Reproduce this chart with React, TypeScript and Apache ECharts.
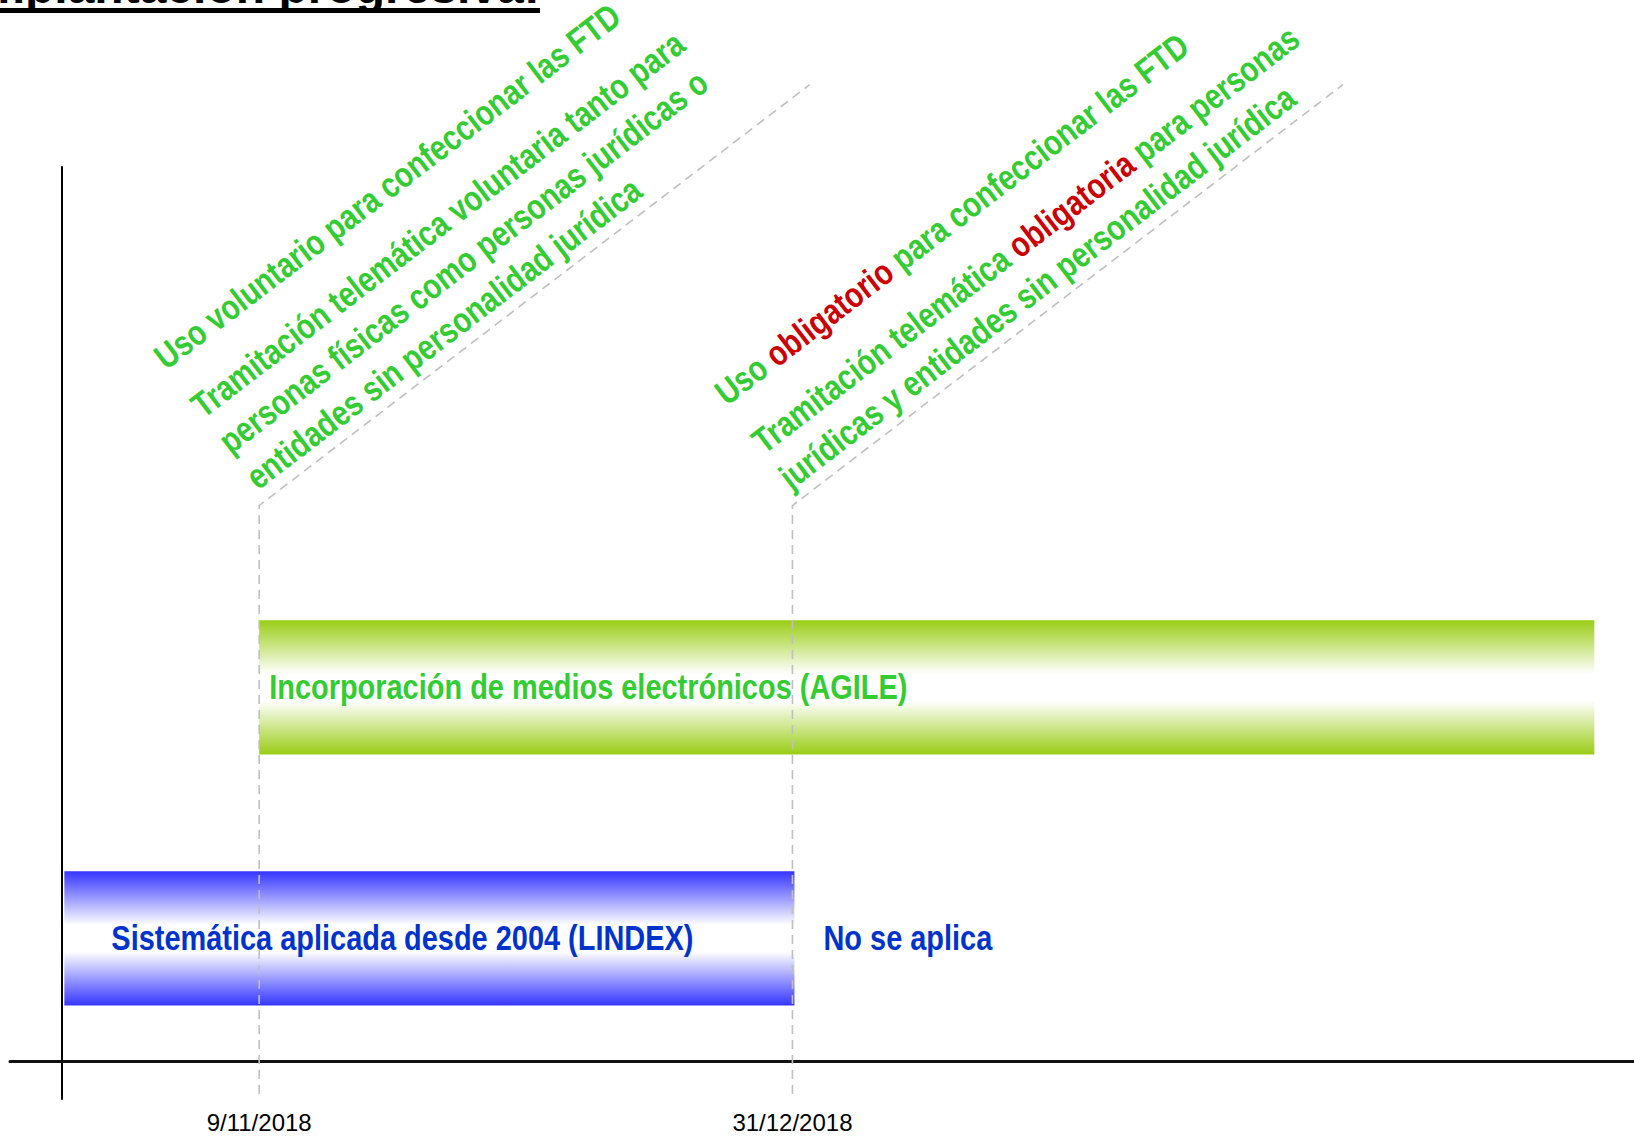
import React, { useEffect, useRef } from 'react';
import * as echarts from 'echarts';

// ---------- data ----------
const TITLE = 'Implantación progresiva:';
const LANES = ['LINDEX', 'AGILE'];
const SEGMENT_LANE = [0, 0, 1];
const SEGMENT_START = ['2018-10-21', '2018-12-31', '2018-11-09'];
const SEGMENT_END = ['2018-12-31', '2019-03-19', '2019-03-19'];
const SEGMENT_LABEL = [
  'Sistemática aplicada desde 2004 (LINDEX)',
  'No se aplica',
  'Incorporación de medios electrónicos (AGILE)',
];
const SEGMENT_FILLED = [true, false, true];
const SEGMENT_THEME = ['blue', 'blue', 'green'];
const MILESTONE_DATES = ['2018-11-09', '2018-12-31'];
const MILESTONE_NOTES = [
  [
    ['Uso voluntario para confeccionar las FTD'],
    [
      'Tramitación telemática voluntaria tanto para',
      'personas físicas como personas jurídicas o',
      'entidades sin personalidad jurídica',
    ],
  ],
  [
    ['Uso *obligatorio* para confeccionar las FTD'],
    [
      'Tramitación telemática *obligatoria* para personas',
      'jurídicas y entidades sin personalidad jurídica',
    ],
  ],
];
const TICK_DATES = ['2018-11-09', '2018-12-31'];
const AXIS_START = '2018-10-15T16:50';
const AXIS_END = '2019-03-23T01:30';

// ---------- layout / style ----------
const FONT = '"Liberation Sans", Arial, sans-serif';
const GREEN_TEXT = '#33CC33';
const RED_TEXT = '#CC0000';
const BLUE_TEXT = '#0033CC';
const THEMES: Record<string, { bar: string; text: string }> = {
  blue: { bar: '#3535FF', text: BLUE_TEXT },
  green: { bar: '#9ACD15', text: GREEN_TEXT },
};
const LABEL_INSET = [47, 31, 10];
const LABEL_SIZE = 35.3;
const NARROW = 0.82;
const BAR_HEIGHT = 0.535;
const GUIDE_FROM = -0.62;
const GUIDE_TO = 1.725;
const NOTE_ANGLE = 37.4;
const DIAG_LEN = 693;
const NOTE_SIZE = 35.5;
const NOTE_INSET = 8;
const NOTE_BOTTOM = -12;
const LINE_GAP = 45;
const PARA_GAP = 61;

const ts = (s: string) => {
  const [d, t = '00:00'] = s.split('T');
  const [y, m, dd] = d.split('-').map(Number);
  const [hh, mi] = t.split(':').map(Number);
  return new Date(y, m - 1, dd, hh, mi).getTime();
};

const fmtDate = (v: number) => {
  const d = new Date(v);
  return `${d.getDate()}/${d.getMonth() + 1}/${d.getFullYear()}`;
};

const toRich = (line: string) => line.replace(/\*(.+?)\*/g, '{r|$1}');

export default function App() {
  const ref = useRef<HTMLDivElement>(null);

  useEffect(() => {
    if (!ref.current) return;
    const chart = echarts.init(ref.current, undefined, { renderer: 'svg' });

    const segData = SEGMENT_START.map((s, i) => [ts(s), ts(SEGMENT_END[i]), SEGMENT_LANE[i]]);
    const msData = MILESTONE_DATES.map((d) => [ts(d), GUIDE_TO]);

    const option: any = {
      animation: false,
      backgroundColor: '#ffffff',
      textStyle: { fontFamily: FONT },
      grid: { left: 10, right: 0, top: 167, bottom: 38, outerBoundsMode: 'none' },
      xAxis: {
        type: 'value',
        min: ts(AXIS_START),
        max: ts(AXIS_END),
        offset: -38,
        axisLine: { show: true, onZero: false, lineStyle: { color: '#111111', width: 3 } },
        axisTick: { show: false },
        splitLine: { show: false },
        axisLabel: {
          customValues: TICK_DATES.map(ts),
          formatter: (v: number) => fmtDate(v),
          color: '#000000',
          fontSize: 24,
          fontFamily: FONT,
          margin: 49,
        },
      },
      yAxis: {
        type: 'value',
        min: -0.64,
        max: 3.074,
        offset: -52,
        axisLine: { show: true, onZero: false, lineStyle: { color: '#000000', width: 2 } },
        axisTick: { show: false },
        axisLabel: { show: false },
        splitLine: { show: false },
      },
      graphic: [
        {
          type: 'text',
          x: -31,
          y: 3.5 - 0.35 * 48,
          style: {
            text: TITLE,
            fill: '#000000',
            fontSize: 48,
            fontWeight: 'bold',
            fontFamily: FONT,
            align: 'left',
            verticalAlign: 'middle',
          },
        },
        {
          type: 'line',
          shape: { x1: -31, y1: 10.5, x2: 540, y2: 10.5 },
          style: { stroke: '#000000', lineWidth: 5 },
        },
      ],
      series: [
        {
          type: 'custom',
          name: 'bars',
          z: 1,
          clip: false,
          encode: { x: [0, 1], y: 2 },
          data: segData,
          renderItem: (params: any, api: any) => {
            const idx = params.dataIndex;
            if (!SEGMENT_FILLED[idx]) return { type: 'group', children: [] };
            const lane = api.value(2);
            const s = api.coord([api.value(0), lane]);
            const e = api.coord([api.value(1), lane]);
            const h = api.size([0, BAR_HEIGHT])[1];
            const c = THEMES[SEGMENT_THEME[idx]].bar;
            return {
              type: 'rect',
              shape: { x: s[0], y: s[1] - h / 2, width: e[0] - s[0] + 2, height: h },
              style: {
                fill: new echarts.graphic.LinearGradient(0, 0, 0, 1, [
                  { offset: 0, color: c },
                  { offset: 0.4, color: '#ffffff' },
                  { offset: 0.6, color: '#ffffff' },
                  { offset: 1, color: c },
                ]),
              },
            };
          },
        },
        {
          type: 'custom',
          name: 'milestones',
          z: 2,
          clip: false,
          encode: { x: 0, y: 1 },
          data: msData,
          renderItem: (params: any, api: any) => {
            const t = api.value(0);
            const bottom = api.coord([t, GUIDE_FROM]);
            const top = api.coord([t, GUIDE_TO]);
            const a = (NOTE_ANGLE * Math.PI) / 180;
            const end = [top[0] + DIAG_LEN * Math.cos(a), top[1] - DIAG_LEN * Math.sin(a)];
            const paras = MILESTONE_NOTES[params.dataIndex];
            const texts: any[] = [];
            let baseline = NOTE_BOTTOM;
            for (let p = paras.length - 1; p >= 0; p--) {
              const lines = paras[p];
              for (let l = lines.length - 1; l >= 0; l--) {
                texts.push({
                  type: 'text',
                  x: NOTE_INSET,
                  y: baseline - 0.35 * NOTE_SIZE,
                  scaleX: NARROW,
                  style: {
                    text: toRich(lines[l]),
                    fill: GREEN_TEXT,
                    fontSize: NOTE_SIZE,
                    fontWeight: 'bold',
                    fontFamily: FONT,
                    align: 'left',
                    verticalAlign: 'middle',
                    rich: {
                      r: { fill: RED_TEXT, fontSize: NOTE_SIZE, fontWeight: 'bold', fontFamily: FONT },
                    },
                  },
                });
                if (l > 0) baseline -= LINE_GAP;
              }
              baseline -= PARA_GAP;
            }
            return {
              type: 'group',
              children: [
                {
                  type: 'polyline',
                  shape: { points: [bottom, top, end] },
                  style: { stroke: '#BFBFBF', lineWidth: 1.6, lineDash: [9, 6], fill: 'none' },
                },
                { type: 'group', x: top[0], y: top[1], rotation: a, children: texts },
              ],
            };
          },
        },
        {
          type: 'custom',
          name: 'labels',
          z: 3,
          clip: false,
          encode: { x: [0, 1], y: 2 },
          data: segData,
          renderItem: (params: any, api: any) => {
            const idx = params.dataIndex;
            const lane = api.value(2);
            const s = api.coord([api.value(0), lane]);
            return {
              type: 'text',
              x: s[0] + LABEL_INSET[idx],
              y: s[1],
              scaleX: NARROW,
              style: {
                text: SEGMENT_LABEL[idx],
                fill: THEMES[SEGMENT_THEME[idx]].text,
                fontSize: LABEL_SIZE,
                fontWeight: 'bold',
                fontFamily: FONT,
                align: 'left',
                verticalAlign: 'middle',
              },
            };
          },
        },
      ],
    };

    chart.setOption(option);
    return () => chart.dispose();
  }, []);

  return (
    <div
      ref={ref}
      style={{ position: 'fixed', left: 0, top: 0, width: 1634, height: 1137, background: '#fff' }}
      data-lanes={LANES.join(',')}
    />
  );
}
